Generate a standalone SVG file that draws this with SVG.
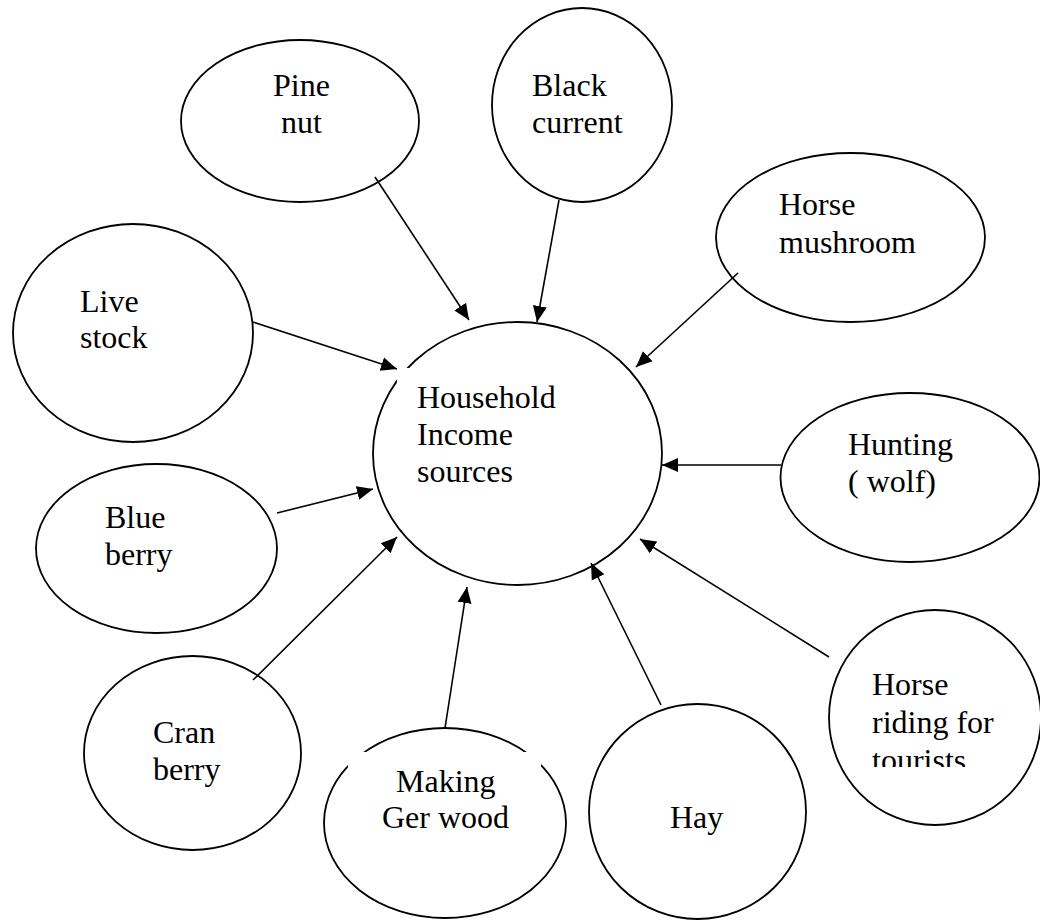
<svg xmlns="http://www.w3.org/2000/svg" width="1040" height="920" viewBox="0 0 1040 920">
<style>
.n{fill:#fff;stroke:#000;stroke-width:1.8}
.w{fill:#fff;stroke:none}
</style>
<defs>
<marker id="arrowhead" markerUnits="userSpaceOnUse" markerWidth="18" markerHeight="16" refX="16" refY="8" orient="auto" viewBox="0 0 18 16">
<path d="M0,1 L16,8 L0,15 z" fill="#000"/>
</marker>
<clipPath id="clipRide"><rect x="860" y="600" width="180" height="167"/></clipPath>
</defs>
<rect width="1040" height="920" fill="#fff"/>
<g font-family="Liberation Serif, Times New Roman, Times, DejaVu Serif, serif" font-size="32" fill="#000">
<g id="node-pine-nut"><ellipse class="n" cx="300" cy="121" rx="119" ry="81"/><text x="273" y="96">Pine</text><text x="281" y="133">nut</text></g>
<g id="node-black-current"><ellipse class="n" cx="582" cy="105" rx="90" ry="97"/><text x="532" y="96">Black</text><text x="532" y="133">current</text></g>
<g id="node-horse-mushroom"><ellipse class="n" cx="850.5" cy="237.5" rx="134.5" ry="84.5"/><text x="779" y="215">Horse</text><text x="779" y="253">mushroom</text></g>
<g id="node-live-stock"><ellipse class="n" cx="133" cy="333" rx="120" ry="109"/><text x="80" y="312">Live</text><text x="80" y="348">stock</text></g>
<g id="node-household"><ellipse class="n" cx="517.5" cy="453.5" rx="144.5" ry="131.5"/><rect class="w" x="397" y="368" width="160" height="130"/><text x="417" y="408">Household</text><text x="417" y="445">Income</text><text x="417" y="482">sources</text></g>
<g id="node-hunting"><ellipse class="n" cx="910" cy="477.5" rx="129.5" ry="84.5"/><text x="848" y="455">Hunting</text><text x="848" y="492">( wolf)</text></g>
<g id="node-blue-berry"><ellipse class="n" cx="156.5" cy="548.5" rx="120.5" ry="84.5"/><text x="105" y="528">Blue</text><text x="105" y="565">berry</text></g>
<g id="node-cran-berry"><ellipse class="n" cx="192.5" cy="753" rx="108.5" ry="97"/><text x="153" y="743">Cran</text><text x="153" y="780">berry</text></g>
<g id="node-making-ger-wood"><ellipse class="n" cx="445" cy="823" rx="121" ry="95"/><rect class="w" x="348" y="752" width="193" height="100"/><text x="396" y="792">Making</text><text x="382" y="828">Ger wood</text></g>
<g id="node-hay"><ellipse class="n" cx="697.5" cy="811.5" rx="108.5" ry="107.5"/><text x="670" y="828">Hay</text></g>
<g id="node-horse-riding"><ellipse class="n" cx="935" cy="717.5" rx="106" ry="107.5"/><g clip-path="url(#clipRide)"><text x="872" y="695">Horse</text><text x="872" y="733">riding for</text><text x="872" y="771">tourists</text></g></g>
</g>
<g id="connectors" stroke="#000" stroke-width="1.6" fill="none" marker-end="url(#arrowhead)">
<line x1="375" y1="177" x2="469" y2="320"/>
<line x1="559" y1="200" x2="537" y2="322"/>
<line x1="738" y1="273" x2="636" y2="367"/>
<line x1="253" y1="322" x2="397" y2="369"/>
<line x1="781" y1="465" x2="662" y2="465"/>
<line x1="277" y1="513" x2="373" y2="489"/>
<line x1="253" y1="680" x2="397" y2="537"/>
<line x1="445" y1="728" x2="467" y2="587"/>
<line x1="661" y1="705" x2="591" y2="563"/>
<line x1="829" y1="657" x2="640" y2="539"/>
</g>
</svg>
